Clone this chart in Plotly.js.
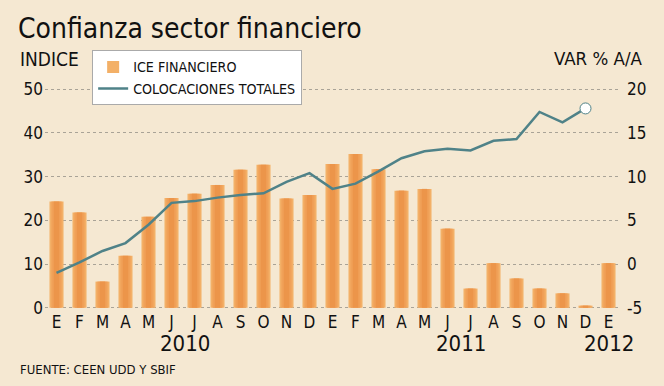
<!DOCTYPE html>
<html>
<head>
<meta charset="utf-8">
<script src="https://cdn.plot.ly/plotly-3.0.1.min.js"></script>
<style>
  html, body { margin: 0; padding: 0; background: #F5E8D2; }
  #chart { width: 664px; height: 386px; }
</style>
</head>
<body>
<div id="chart"></div>
<script>
// ---- data ----
const categories = [
  "Ene 2010","Feb 2010","Mar 2010","Abr 2010","May 2010","Jun 2010","Jul 2010","Ago 2010","Sep 2010","Oct 2010","Nov 2010","Dic 2010",
  "Ene 2011","Feb 2011","Mar 2011","Abr 2011","May 2011","Jun 2011","Jul 2011","Ago 2011","Sep 2011","Oct 2011","Nov 2011","Dic 2011",
  "Ene 2012"
];
const monthLetters = ["E","F","M","A","M","J","J","A","S","O","N","D",
                      "E","F","M","A","M","J","J","A","S","O","N","D","E"];
const iceFinanciero = [24.3, 21.8, 6.0, 11.9, 20.8, 25.1, 26.1, 28.1, 31.6, 32.7, 25.0, 25.8,
                       32.9, 35.2, 31.7, 26.8, 27.2, 18.1, 4.4, 10.2, 6.7, 4.4, 3.3, 0.5, 10.2];
const colocacionesTotales = [-1.0, 0.2, 1.5, 2.4, 4.5, 7.0, 7.2, 7.6, 7.9, 8.1, 9.4, 10.4,
                             8.6, 9.2, 10.6, 12.1, 12.9, 13.2, 13.0, 14.1, 14.3, 17.4, 16.2, 17.8];
const leftTicks = [0, 10, 20, 30, 40, 50];
const leftTickText = ["0", "10", "20", "30", "40", "50"];
const rightTicks = [-5, 0, 5, 10, 15, 20];
const rightTickText = ["-5", "0", "5", "10", "15", "20"];
const yearLabels = ["2010", "2011", "2012"];
const yearPositions = [5.6, 17.6, 24];

const FONT = "'DejaVu Sans Condensed', 'DejaVu Sans', sans-serif";
const lastIdx = colocacionesTotales.length - 1;

const traces = [
  { type: "bar", x: categories, y: iceFinanciero, name: "ICE FINANCIERO",
    width: 0.61, marker: { color: "#F3B067" }, showlegend: true, hoverinfo: "skip" },
  { type: "bar", x: categories, y: iceFinanciero, name: "ICE FINANCIERO",
    width: 0.44, marker: { color: "#F0A158" }, showlegend: false, hoverinfo: "skip" },
  { type: "bar", x: categories, y: iceFinanciero, name: "ICE FINANCIERO",
    width: 0.24, marker: { color: "#EC954A" }, showlegend: false, hoverinfo: "skip" },
  { type: "scatter", mode: "lines", x: categories.slice(0, colocacionesTotales.length), y: colocacionesTotales,
    yaxis: "y2", name: "COLOCACIONES TOTALES",
    line: { color: "#4F8288", width: 2.5 } },
  { type: "scatter", mode: "markers", x: [categories[lastIdx]], y: [colocacionesTotales[lastIdx]],
    yaxis: "y2", showlegend: false,
    marker: { size: 11, color: "#FFFFFF", line: { color: "#4F8288", width: 1 } } }
];

const annotations = yearLabels.map((t, i) => ({
  text: t, x: yearPositions[i], xref: "x", y: -0.148, yref: "paper",
  xanchor: "center", yanchor: "middle", showarrow: false,
  font: { family: FONT, size: 22, color: "#111" }
}));
annotations.push(
  { text: "INDICE", x: -0.047, xref: "paper", y: 1.1256, yref: "paper", xanchor: "left", yanchor: "middle",
    showarrow: false, font: { family: FONT, size: 19, color: "#111" } },
  { text: "VAR % A/A", x: 1.0435, xref: "paper", y: 1.1256, yref: "paper", xanchor: "right", yanchor: "middle",
    showarrow: false, font: { family: FONT, size: 18.5, color: "#111" } },
  { text: "FUENTE: CEEN UDD Y SBIF", x: -0.047, xref: "paper", y: -0.2646, yref: "paper", xanchor: "left", yanchor: "middle",
    showarrow: false, font: { family: FONT, size: 13, color: "#111" } }
);

const layout = {
  width: 664, height: 386,
  paper_bgcolor: "#F5E8D2", plot_bgcolor: "#F5E8D2",
  margin: { l: 45, r: 44, t: 87, b: 76, pad: 0 },
  font: { family: FONT, color: "#111" },
  title: { text: "Confianza sector financiero", xref: "container", x: 0.027, xanchor: "left",
           yref: "container", y: 0.927, yanchor: "middle",
           font: { family: FONT, size: 28, color: "#111" } },
  barmode: "overlay",
  showlegend: true,
  legend: { x: 0.082, xanchor: "left", y: 1.165, yanchor: "top",
            bgcolor: "#FFFFFF", bordercolor: "#AAAAAA", borderwidth: 1,
            font: { family: FONT, size: 14.2, color: "#111" }, traceorder: "normal",
            tracegroupgap: 0, itemwidth: 30 },
  xaxis: { type: "category", range: [-0.5, 24.5], tickvals: categories, ticktext: monthLetters,
           tickfont: { family: FONT, size: 17, color: "#111" }, showgrid: false, zeroline: false,
           showline: false, ticks: "", ticklabelstandoff: 0 },
  yaxis: { range: [-0.5, 50.5], tickvals: leftTicks, ticktext: leftTickText, showgrid: true, gridcolor: "#A9A397",
           griddash: "dot", gridwidth: 1, zeroline: false, showline: false, ticks: "",
           tickfont: { family: FONT, size: 17, color: "#111" }, ticklabelstandoff: 1 },
  yaxis2: { range: [-5.25, 20.25], tickvals: rightTicks, ticktext: rightTickText, overlaying: "y", side: "right",
            showgrid: false, zeroline: false, showline: false, ticks: "",
            tickfont: { family: FONT, size: 17, color: "#111" }, ticklabelstandoff: 6 },
  annotations: annotations
};

Plotly.newPlot("chart", traces, layout, { displayModeBar: false, staticPlot: true });
</script>
</body>
</html>
